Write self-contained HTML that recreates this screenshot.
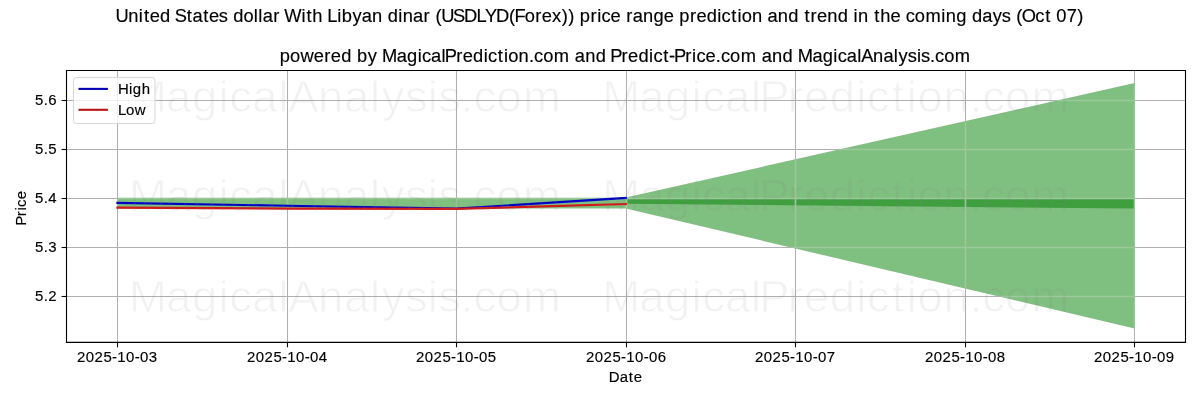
<!DOCTYPE html>
<html><head><meta charset="utf-8">
<style>
html,body{margin:0;padding:0;background:#fff;width:1200px;height:400px;overflow:hidden}
svg{display:block;will-change:transform}
text{font-family:"Liberation Sans",sans-serif;fill:#000;stroke:#000;stroke-width:0.15px}
mask text{fill:#fff;stroke:#000;stroke-width:1px}
</style></head>
<body>
<svg width="1200" height="400" viewBox="0 0 1200 400">
<rect x="0" y="0" width="1200" height="400" fill="#fff"/>
<text x="111.08 123.37 133.53 138.36 143.89 153.80 163.80 167.93 179.49 185.01 195.43 200.96 210.46 219.07 224.17 234.05 244.04 248.45 252.57 262.65 268.92 273.41 289.80 294.62 300.31 310.30 314.79 324.35 328.64 338.86 347.91 357.80 367.79 372.89 383.06 387.35 397.23 407.31 413.58 418.71 424.18 435.50 446.15 458.13 466.41 476.87 489.49 494.70 504.59 514.67 520.84 530.90 540.15 546.34 552.44 557.54 567.80 574.23 578.35 587.09 596.94 602.23 608.38 618.26 628.32 638.23 648.08 653.18 663.43 669.61 679.51 689.69 693.80 703.23 709.03 713.14 723.01 733.01 737.94 747.82 757.87 767.87 773.50 779.38 785.56 795.46 805.51 815.52 820.73 825.02 835.01 840.64 846.32 856.22 866.07 870.99 879.70 889.84 905.14 909.43 919.48 929.49 934.59 944.48 954.52 963.34 971.95 977.07 982.49 995.53 1004.96 1010.58 1015.70 1025.79 1035.89" y="21.8" font-size="17.6" transform="scale(1.0400,1)">United States dollar With Libyan dinar (USDLYD(Forex)) price range prediction and trend in the coming days (Oct 07)</text>
<text x="269.01 278.94 288.88 301.76 311.90 318.12 328.08 338.12 343.26 353.53 362.73 367.26 381.45 391.39 401.60 405.75 414.52 424.56 427.67 438.69 444.90 454.86 465.07 469.23 478.69 484.51 488.67 498.59 508.62 513.58 522.35 532.55 547.73 552.70 562.63 572.74 582.78 586.69 597.71 603.93 613.89 624.10 628.25 637.71 643.23 647.97 658.99 665.46 669.61 678.40 688.28 693.24 702.00 712.21 727.39 732.36 742.29 752.40 762.44 766.96 781.16 791.10 801.31 805.46 814.23 824.27 828.02 839.50 849.43 859.47 863.95 872.82 881.63 885.55 894.19 899.15 907.91 918.11" y="61.8" font-size="17.6" transform="scale(1.0400,1)">powered by MagicalPrediction.com and Predict-Price.com and MagicalAnalysis.com</text>
<polygon points="117.4,197.7 625.8,197.7 625.8,208.6 117.4,208.6" fill="#008000" fill-opacity="0.5"/>
<polygon points="625.8,197.5 1134.5,83.1 1134.5,328.5 625.8,208.5" fill="#008000" fill-opacity="0.5"/>
<polygon points="625.8,198.8 1134.5,198.8 1134.5,208.5 625.8,203.8" fill="#008000" fill-opacity="0.5"/>
<g stroke="#b0b0b0" stroke-width="1.05">
<line x1="117.5" y1="70.5" x2="117.5" y2="342.4"/>
<line x1="287.5" y1="70.5" x2="287.5" y2="342.4"/>
<line x1="456.5" y1="70.5" x2="456.5" y2="342.4"/>
<line x1="626.5" y1="70.5" x2="626.5" y2="342.4"/>
<line x1="795.5" y1="70.5" x2="795.5" y2="342.4"/>
<line x1="965.5" y1="70.5" x2="965.5" y2="342.4"/>
<line x1="1134.5" y1="70.5" x2="1134.5" y2="342.4"/>
<line x1="66.5" y1="100.5" x2="1185.5" y2="100.5"/>
<line x1="66.5" y1="149.5" x2="1185.5" y2="149.5"/>
<line x1="66.5" y1="198.5" x2="1185.5" y2="198.5"/>
<line x1="66.5" y1="247.5" x2="1185.5" y2="247.5"/>
<line x1="66.5" y1="296.5" x2="1185.5" y2="296.5"/>
</g>
<clipPath id="gc"><polygon points="117.4,197.7 625.8,197.7 625.8,208.6 117.4,208.6"/><polygon points="625.8,197.5 1134.5,83.1 1134.5,328.5 625.8,208.5"/></clipPath>
<g stroke="#9cc89c" stroke-width="1.6" clip-path="url(#gc)">
<line x1="117.5" y1="70.5" x2="117.5" y2="342.4"/>
<line x1="287.5" y1="70.5" x2="287.5" y2="342.4"/>
<line x1="456.5" y1="70.5" x2="456.5" y2="342.4"/>
<line x1="626.5" y1="70.5" x2="626.5" y2="342.4"/>
<line x1="795.5" y1="70.5" x2="795.5" y2="342.4"/>
<line x1="965.5" y1="70.5" x2="965.5" y2="342.4"/>
<line x1="1134.5" y1="70.5" x2="1134.5" y2="342.4"/>
<line x1="66.5" y1="100.5" x2="1185.5" y2="100.5"/>
<line x1="66.5" y1="149.5" x2="1185.5" y2="149.5"/>
<line x1="66.5" y1="198.5" x2="1185.5" y2="198.5"/>
<line x1="66.5" y1="247.5" x2="1185.5" y2="247.5"/>
<line x1="66.5" y1="296.5" x2="1185.5" y2="296.5"/>
</g>
<polyline points="117.4,202.9 287,205.7 456.4,208.6 625.8,197.9" fill="none" stroke="#0000c8" stroke-width="2.1" stroke-linecap="square" stroke-linejoin="round"/>
<polyline points="117.4,207.6 287,208.6 456.4,208.9 625.8,204" fill="none" stroke="#d21818" stroke-width="2.1" stroke-linecap="square" stroke-linejoin="round"/>
<mask id="wm" maskUnits="userSpaceOnUse" x="0" y="0" width="1200" height="400"><rect x="0" y="0" width="1200" height="400" fill="#000"/><g style="fill:#fff" stroke="#000" stroke-width="1.0">
<text x="125.30 161.18 186.34 212.12 222.68 244.88 270.22 279.79 308.82 333.96 359.30 370.70 393.14 415.39 425.37 447.19 459.78 481.97 507.83" y="112.3" font-size="44.2" transform="scale(1.0300,1)" style="fill:#fff">MagicalAnalysis.com</text>
<text x="584.75 620.52 645.59 671.31 681.80 703.92 729.20 737.07 764.83 780.52 805.64 831.36 841.85 865.69 880.38 890.88 915.91 941.18 953.71 975.81 1001.56" y="112.3" font-size="44.2" transform="scale(1.0300,1)" style="fill:#fff">MagicalPrediction.com</text>
<text x="125.30 161.18 186.34 212.12 222.68 244.88 270.22 279.79 308.82 333.96 359.30 370.70 393.14 415.39 425.37 447.19 459.78 481.97 507.83" y="211.3" font-size="44.2" transform="scale(1.0300,1)" style="fill:#fff">MagicalAnalysis.com</text>
<text x="584.75 620.52 645.59 671.31 681.80 703.92 729.20 737.07 764.83 780.52 805.64 831.36 841.85 865.69 880.38 890.88 915.91 941.18 953.71 975.81 1001.56" y="211.3" font-size="44.2" transform="scale(1.0300,1)" style="fill:#fff">MagicalPrediction.com</text>
<text x="125.30 161.18 186.34 212.12 222.68 244.88 270.22 279.79 308.82 333.96 359.30 370.70 393.14 415.39 425.37 447.19 459.78 481.97 507.83" y="311.7" font-size="44.2" transform="scale(1.0300,1)" style="fill:#fff">MagicalAnalysis.com</text>
<text x="584.75 620.52 645.59 671.31 681.80 703.92 729.20 737.07 764.83 780.52 805.64 831.36 841.85 865.69 880.38 890.88 915.91 941.18 953.71 975.81 1001.56" y="311.7" font-size="44.2" transform="scale(1.0300,1)" style="fill:#fff">MagicalPrediction.com</text>
</g></mask>
<rect x="66" y="70" width="1120" height="272" fill="#808080" fill-opacity="0.115" mask="url(#wm)"/>
<rect x="73.5" y="77.5" width="81.5" height="46" rx="2.8" ry="2.8" fill="#fff" fill-opacity="0.8" stroke="#d8d8d8" stroke-width="1"/>
<line x1="78.5" y1="88.9" x2="107.9" y2="88.9" stroke="#0000b4" stroke-width="2.1"/>
<line x1="78.5" y1="109.8" x2="107.9" y2="109.8" stroke="#bc1212" stroke-width="2.1"/>
<text x="115.24 125.86 129.61 138.20" y="93.8" font-size="14.6" transform="scale(1.0250,1)">High</text>
<text x="115.13 123.05 131.52" y="114.6" font-size="14.6" transform="scale(1.0250,1)">Low</text>
<path d="M66.5,70.5H1185.5V342.4H66.5Z" fill="none" stroke="#000" stroke-width="1.1"/>
<g stroke="#000" stroke-width="1.1">
<line x1="117.5" y1="342.4" x2="117.5" y2="347.29999999999995"/>
<line x1="287.5" y1="342.4" x2="287.5" y2="347.29999999999995"/>
<line x1="456.5" y1="342.4" x2="456.5" y2="347.29999999999995"/>
<line x1="626.5" y1="342.4" x2="626.5" y2="347.29999999999995"/>
<line x1="795.5" y1="342.4" x2="795.5" y2="347.29999999999995"/>
<line x1="965.5" y1="342.4" x2="965.5" y2="347.29999999999995"/>
<line x1="1134.5" y1="342.4" x2="1134.5" y2="347.29999999999995"/>
<line x1="61.6" y1="100.5" x2="66.5" y2="100.5"/>
<line x1="61.6" y1="149.5" x2="66.5" y2="149.5"/>
<line x1="61.6" y1="198.5" x2="66.5" y2="198.5"/>
<line x1="61.6" y1="247.5" x2="66.5" y2="247.5"/>
<line x1="61.6" y1="296.5" x2="66.5" y2="296.5"/>
</g>
<text x="75.02 83.64 92.27 100.89 109.27 114.40 123.02 131.40 136.53 145.15" y="361.8" font-size="14.6" transform="scale(1.0250,1)">2025-10-03</text>
<text x="240.88 249.50 258.12 266.74 275.12 280.25 288.87 297.26 302.38 311.00" y="361.8" font-size="14.6" transform="scale(1.0250,1)">2025-10-04</text>
<text x="405.75 414.38 423.00 431.62 440.00 445.13 453.75 462.13 467.26 475.88" y="361.8" font-size="14.6" transform="scale(1.0250,1)">2025-10-05</text>
<text x="571.61 580.23 588.85 597.47 605.86 610.98 619.60 627.99 633.11 641.74" y="361.8" font-size="14.6" transform="scale(1.0250,1)">2025-10-06</text>
<text x="736.49 745.11 753.73 762.35 770.73 775.86 784.48 792.87 797.99 806.61" y="361.8" font-size="14.6" transform="scale(1.0250,1)">2025-10-07</text>
<text x="902.34 910.96 919.58 928.20 936.59 941.71 950.34 958.72 963.85 972.47" y="361.8" font-size="14.6" transform="scale(1.0250,1)">2025-10-08</text>
<text x="1067.22 1075.84 1084.46 1093.08 1101.47 1106.59 1115.21 1123.60 1128.72 1137.34" y="361.8" font-size="14.6" transform="scale(1.0250,1)">2025-10-09</text>
<text x="34.12 42.61 47.04" y="104.7" font-size="14.6" transform="scale(1.0250,1)">5.6</text>
<text x="34.12 42.61 47.04" y="153.7" font-size="14.6" transform="scale(1.0250,1)">5.5</text>
<text x="34.12 42.61 47.04" y="202.7" font-size="14.6" transform="scale(1.0250,1)">5.4</text>
<text x="34.12 42.61 47.04" y="251.7" font-size="14.6" transform="scale(1.0250,1)">5.3</text>
<text x="34.12 42.61 47.04" y="300.7" font-size="14.6" transform="scale(1.0250,1)">5.2</text>
<text x="594.00 604.58 613.42 618.21" y="381.9" font-size="14.6" transform="scale(1.0250,1)">Date</text>
<g transform="translate(25.8,207.9) rotate(-90)"><text x="-17.43 -8.12 -2.64 0.94 8.42" y="0" font-size="14.6" transform="scale(1.0250,1)">Price</text>
</g>
</svg>
</body></html>
